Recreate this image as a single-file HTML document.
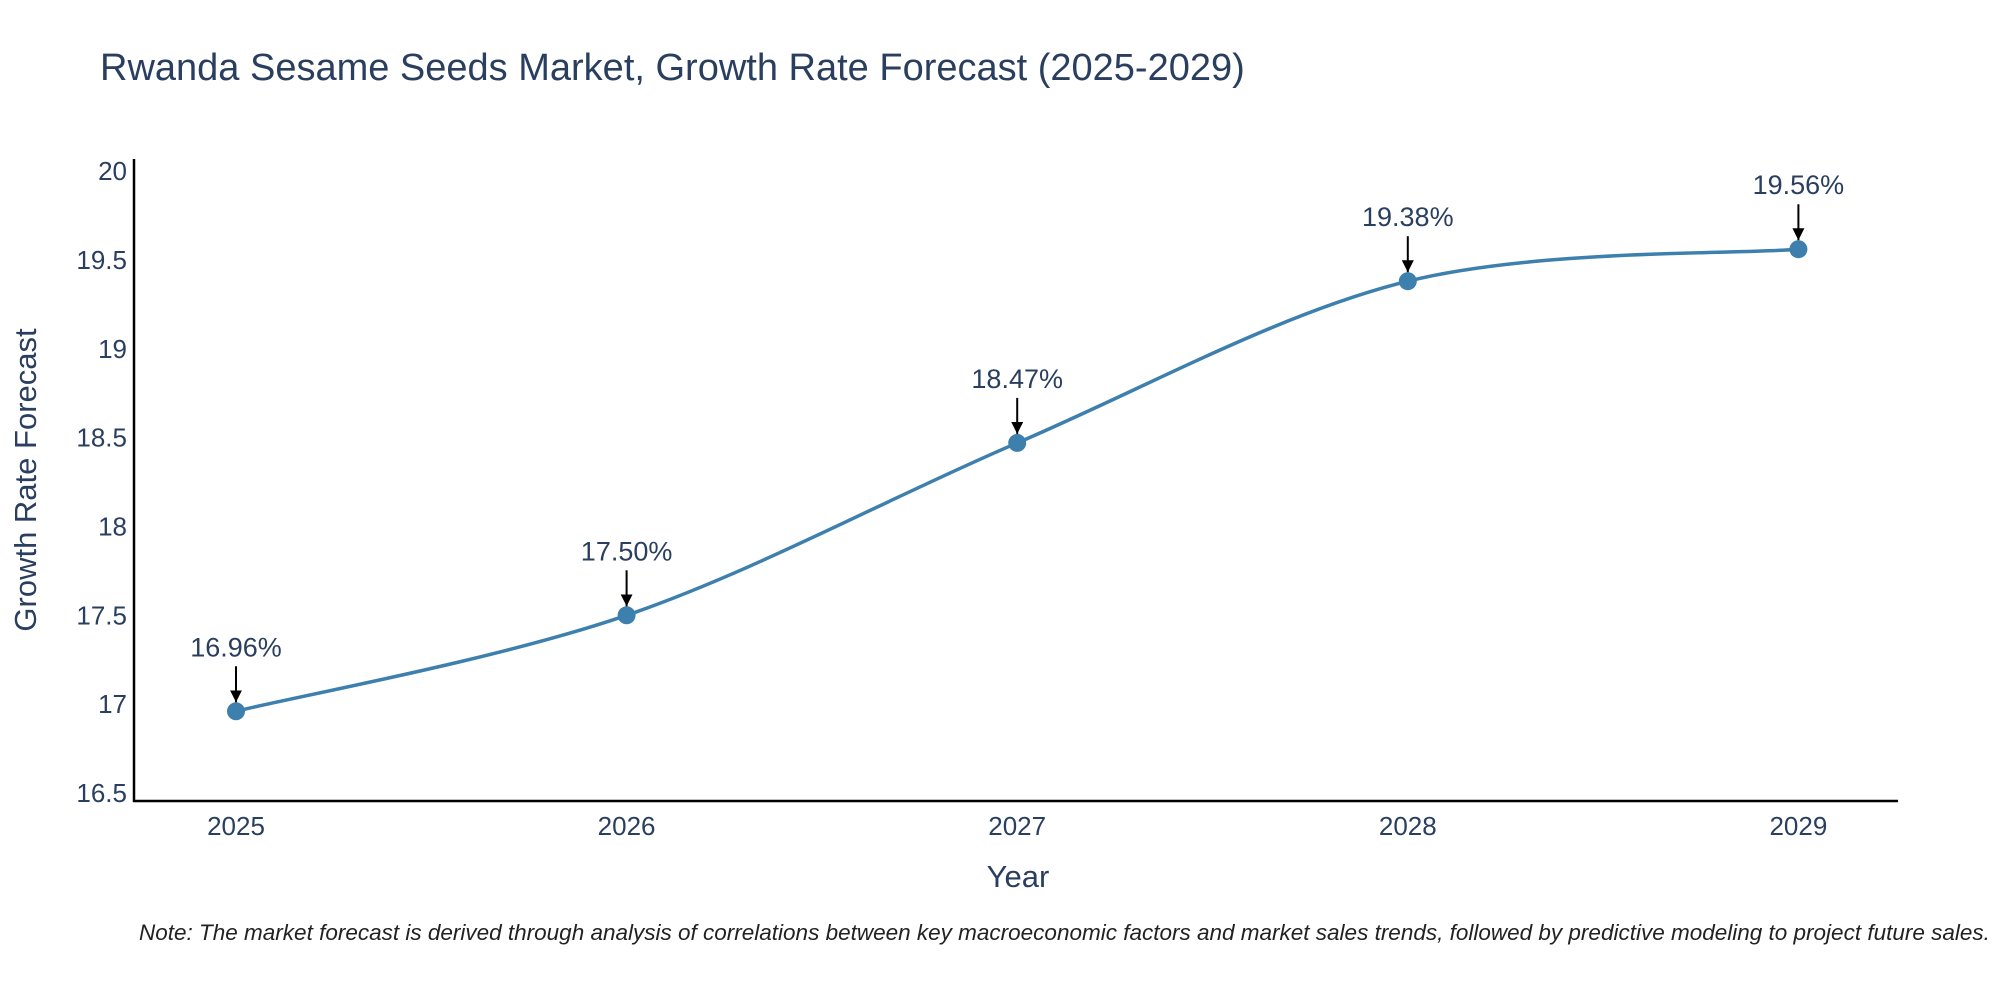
<!DOCTYPE html>
<html><head><meta charset="utf-8"><style>
body{margin:0;background:#fff;font-family:"Liberation Sans",sans-serif;}
svg text{font-family:"Liberation Sans",sans-serif;}
</style></head><body>
<svg id="chart" width="2000" height="1000" xmlns="http://www.w3.org/2000/svg">
<rect width="2000" height="1000" fill="#fff"/>
<text x="100" y="80" font-size="38" fill="#2a3f5f">Rwanda Sesame Seeds Market, Growth Rate Forecast (2025-2029)</text>
<g id="yticks"></g><g id="xticks"></g>
<line x1="134" y1="159" x2="134" y2="802" stroke="#000" stroke-width="2.5"/>
<line x1="133" y1="801" x2="1898" y2="801" stroke="#000" stroke-width="2.5"/>
<path id="line" fill="none" stroke="#3d7fad" stroke-width="3.5"/>
<g id="marks"></g>
<text x="1018" y="887" font-size="31" fill="#2a3f5f" text-anchor="middle">Year</text>
<text transform="translate(36,480) rotate(-90)" font-size="31" fill="#2a3f5f" text-anchor="middle">Growth Rate Forecast</text>
<text x="139" y="940" font-size="22.5" font-style="italic" fill="#222">Note: The market forecast is derived through analysis of correlations between key macroeconomic factors and market sales trends, followed by predictive modeling to project future sales.</text>
<defs><marker id="ah" viewBox="0 0 10 10" refX="10" refY="5" markerWidth="6" markerHeight="6" orient="auto"><path d="M0,0 L10,5 L0,10 Z" fill="#000"/></marker></defs>
</svg>
<script>
const years=[2025,2026,2027,2028,2029];
const values=[16.96,17.50,18.47,19.38,19.56];
const labels=["16.96%","17.50%","18.47%","19.38%","19.56%"];
const yTicks=[16.5,17,17.5,18,18.5,19,19.5,20];
const NS="http://www.w3.org/2000/svg";
const xs=y=>236+(y-2025)*390.6;
const ys=v=>793-(v-16.5)*177.7;
function mk(t,a,p){const e=document.createElementNS(NS,t);for(const k in a)e.setAttribute(k,a[k]);p.appendChild(e);return e;}
const yt=document.getElementById('yticks');
yTicks.forEach(v=>{const t=mk('text',{x:127,y:ys(v)+9,'font-size':26,fill:'#2a3f5f','text-anchor':'end'},yt);


t.textContent=String(v);});
const xt=document.getElementById('xticks');
years.forEach(y=>{const t=mk('text',{x:xs(y),y:835,'font-size':26,fill:'#2a3f5f','text-anchor':'middle'},xt);


t.textContent=String(y);});
const P=years.map((y,i)=>[xs(y),ys(values[i])]);
let d='M'+P[0][0]+','+P[0][1];const k=0.33;
for(let i=0;i<P.length-1;i++){const p0=P[Math.max(i-1,0)],p1=P[i],p2=P[i+1],p3=P[Math.min(i+2,P.length-1)];
const c1=[p1[0]+(p2[0]-p0[0])*k/2,p1[1]+(p2[1]-p0[1])*k/2];
const c2=[p2[0]-(p3[0]-p1[0])*k/2,p2[1]-(p3[1]-p1[1])*k/2];
d+=` C${c1[0]},${c1[1]} ${c2[0]},${c2[1]} ${p2[0]},${p2[1]}`;}
document.getElementById('line').setAttribute('d',d);
const g=document.getElementById('marks');
P.forEach((p,i)=>{const c=mk('circle',{cx:p[0],cy:p[1],r:9,fill:'#3d7fad'},g);


const a=mk('line',{x1:p[0],y1:p[1]-45,x2:p[0],y2:p[1]-9,stroke:'#000','stroke-width':2,'marker-end':'url(#ah)'},g);


const t=mk('text',{x:p[0],y:p[1]-55,'font-size':27,fill:'#2a3f5f','text-anchor':'middle'},g);


t.textContent=labels[i];});
</script>
</body></html>
